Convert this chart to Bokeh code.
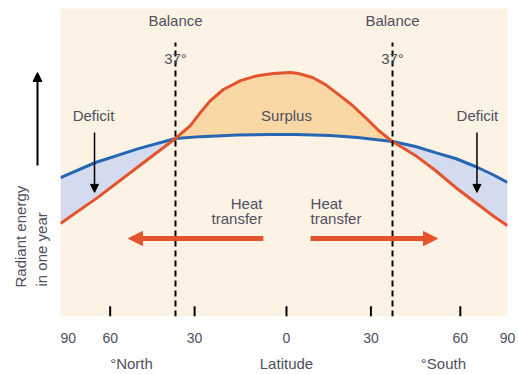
from bokeh.plotting import figure
from bokeh.layouts import row
from bokeh.models import Range1d, FixedTicker, Label, Arrow, NormalHead, LinearAxis
from bokeh.core.properties import value
from bokeh.embed import file_html
from bokeh.resources import INLINE

# ---- data (horizontal position units, energy in arbitrary units 0-100) ----
red_x = [-90, -75.1, -58.6, -43.7, -37.7, -33.7, -29.6, -24.4, -17.5, -10.7, -4.2, 2.6,
         5.8, 11.5, 16.7, 21.9, 27.6, 32.8, 38.1, 43.7, 52.9, 61.0, 69.1, 77.1, 84.0, 90]
red_y = [30.2, 38.6, 48.7, 57.8, 62.0, 66.2, 70.1, 73.7, 76.6, 78.2, 78.9, 79.2,
         78.9, 77.6, 75.3, 72.1, 68.5, 64.6, 60.4, 56.8, 52.3, 47.4, 41.9, 37.0, 32.8, 29.5]
blue_x = [-90, -75.9, -58.6, -43.7, -33.6, -18.7, -5.4, 4.6, 18.7, 29.6, 43.7,
          53.0, 61.0, 69.1, 77.1, 84.0, 90]
blue_y = [45.1, 50.0, 54.5, 57.8, 58.4, 58.9, 59.1, 59.1, 58.8, 58.1, 56.8,
          55.2, 53.2, 51.3, 48.7, 46.1, 43.5]
balance_x = [-43.7, 43.7]
balance_labels = ["37°", "37°"]
tick_pos = [-90, -70, -36, 1, 35, 71, 90]
tick_labels = ["90", "60", "30", "0", "30", "60", "90"]
inner_tick_pos = [-70, -36, 1, 35, 71]
hemi_pos = [-61.4, 1.0, 64.2]
hemi_labels = ["°North", "Latitude", "°South"]
deficit_x = [-76.3, 77.7]
arrow_top = 59.7
arrow_bottom = 40.3
heat_y = 25.3
heat_left = (-8.3, -62.6)
heat_right = (10.7, 61.8)

RED = "#e5532d"
BLUE = "#2667b3"
TXT = "#4f4f60"
FONT = "Liberation Sans"
FS = "15px"

# ---------------- main chart ----------------
p = figure(width=458, height=374, output_backend="svg", toolbar_location=None,
           x_range=Range1d(-90, 90), y_range=Range1d(0, 100),
           min_border_left=0, min_border_right=11, min_border_top=8, min_border_bottom=10)
p.background_fill_color = "#fdf3e4"
p.border_fill_color = "white"
p.outline_line_color = None
p.grid.visible = False
p.yaxis.visible = False

ax = p.xaxis[0]
ax.ticker = FixedTicker(ticks=tick_pos)
ax.major_label_overrides = {t: l for t, l in zip(tick_pos, tick_labels)}
ax.axis_line_color = None
ax.major_tick_line_color = None
ax.major_tick_in = 0
ax.major_tick_out = 0
ax.minor_tick_line_color = None
ax.major_label_standoff = 16
ax.major_label_text_font = FONT
ax.major_label_text_font_size = "14px"
ax.major_label_text_color = TXT

ax2 = LinearAxis(ticker=FixedTicker(ticks=hemi_pos),
                 major_label_overrides={t: l for t, l in zip(hemi_pos, hemi_labels)})
ax2.axis_line_color = None
ax2.major_tick_line_color = None
ax2.major_tick_in = 0
ax2.major_tick_out = 0
ax2.minor_tick_line_color = None
ax2.major_label_standoff = 9
ax2.major_label_text_font = FONT
ax2.major_label_text_font_size = FS
ax2.major_label_text_color = TXT
p.add_layout(ax2, "below")

def seg(lo, hi, xs, ys):
    return [(x, y) for x, y in zip(xs, ys) if lo <= x <= hi]

# surplus patch
r_mid = seg(-43.7, 43.7, red_x, red_y)
b_mid = seg(-43.7, 43.7, blue_x, blue_y)[::-1]
p.patch([q[0] for q in r_mid + b_mid], [q[1] for q in r_mid + b_mid],
        fill_color="#f9d8a6", line_color=None)
# deficit patches
for lo, hi in [(-90, -43.7), (43.7, 90)]:
    rr = seg(lo, hi, red_x, red_y)
    bb = seg(lo, hi, blue_x, blue_y)[::-1]
    p.patch([q[0] for q in rr + bb], [q[1] for q in rr + bb],
            fill_color="#d5dbef", line_color=None)

p.line(blue_x, blue_y, line_color=BLUE, line_width=3)
p.line(red_x, red_y, line_color=RED, line_width=3, line_join="round")

# balance dashed lines
p.segment(x0=balance_x, y0=[0, 0], x1=balance_x, y1=[89, 89],
          line_color="black", line_width=2, line_dash="6 4")

# inner ticks
p.segment(x0=inner_tick_pos, y0=[0] * 5, x1=inner_tick_pos, y1=[3.3] * 5,
          line_color="black", line_width=2)

def lab(x, y, t, align="center"):
    p.add_layout(Label(x=x, y=y, text=t, text_align=align, text_baseline="middle",
                       text_font=FONT, text_font_size=FS, text_color=TXT))

for bx, bl in zip(balance_x, balance_labels):
    lab(bx, 96.1, "Balance")
    lab(bx, 83.8, bl)
lab(-76.7, 65.3, "Deficit")
lab(77.9, 65.3, "Deficit")
lab(1.0, 65.3, "Surplus")
lab(-8.7, 36.7, "Heat", align="right")
lab(-8.7, 31.8, "transfer", align="right")
lab(10.7, 36.7, "Heat", align="left")
lab(10.7, 31.8, "transfer", align="left")

# deficit arrows
for dx in deficit_x:
    p.add_layout(Arrow(x_start=dx, y_start=arrow_top, x_end=dx, y_end=arrow_bottom,
                       line_color="black", line_width=1.5,
                       end=NormalHead(size=8, fill_color="black", line_color="black")))
# heat transfer arrows
for (x0, x1) in [heat_left, heat_right]:
    p.add_layout(Arrow(x_start=x0, y_start=heat_y, x_end=x1, y_end=heat_y,
                       line_color=RED, line_width=5,
                       end=NormalHead(size=14, fill_color=RED, line_color=RED)))

# ---------------- left strip: y-axis caption ----------------
# (its frame is aligned with the main frame: pixel rows 8..316)
q = figure(width=60, height=374, output_backend="svg", toolbar_location=None,
           x_range=Range1d(0, 60), y_range=Range1d(316, 8),
           x_axis_location=None, y_axis_location=None,
           min_border=0, min_border_left=0, min_border_right=0,
           min_border_top=8, min_border_bottom=58)
q.grid.visible = False
q.outline_line_color = None
q.background_fill_color = "white"
q.border_fill_color = "white"
q.text(x=[20, 41], y=[287, 286], text=["Radiant energy", "in one year"],
       angle=1.5708, text_align="left", text_baseline="middle",
       text_font=value(FONT), text_font_size=FS, text_color=TXT)
q.add_layout(Arrow(x_start=37, y_start=165, x_end=37, y_end=72,
                   line_color="black", line_width=2,
                   end=NormalHead(size=9, fill_color="black", line_color="black")))

layout = row(q, p, spacing=0)
open("out.html", "w").write(file_html(layout, INLINE))
